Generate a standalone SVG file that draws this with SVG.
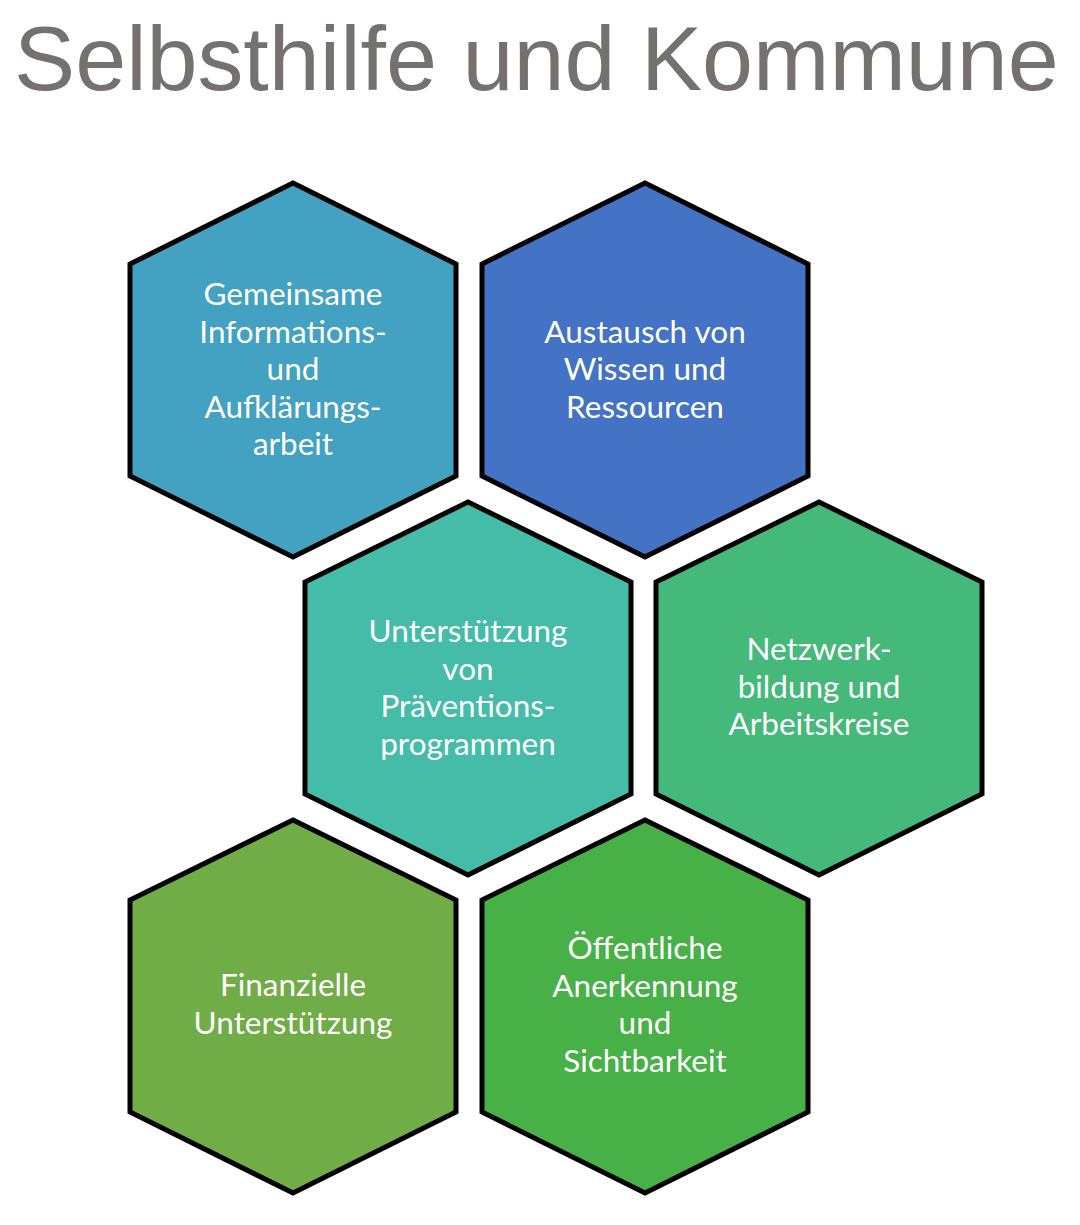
<svg xmlns="http://www.w3.org/2000/svg" width="1080" height="1225" viewBox="0 0 1080 1225">
<style>
.hex{stroke:#000;stroke-width:5;stroke-linejoin:miter}
.lbl{font-family:Lato,"Open Sans",sans-serif;font-size:31.5px;fill:#fff;text-anchor:middle}
.title{font-family:"Liberation Sans",Arial,sans-serif;font-size:91.7px;fill:#767171}
</style>
<rect width="1080" height="1225" fill="#fff"/>
<text class="title" x="14" y="90">Selbsthilfe und Kommune</text>
<g id="connectors"></g>
<g id="hex1">
<polygon class="hex" fill="#43A1C2" points="293,183 456,264 456,476 293,557 130,476 130,264"/>
<text class="lbl" x="293"><tspan x="293" y="305">Gemeinsame</tspan><tspan x="293" y="342.5">Informations-</tspan><tspan x="293" y="380">und</tspan><tspan x="293" y="417.5">Aufklärungs-</tspan><tspan x="293" y="455">arbeit</tspan></text>
</g>
<g id="hex2">
<polygon class="hex" fill="#4472C4" points="645,183 808,264 808,476 645,557 482,476 482,264"/>
<text class="lbl"><tspan x="645" y="342.5">Austausch von</tspan><tspan x="645" y="380">Wissen und</tspan><tspan x="645" y="417.5">Ressourcen</tspan></text>
</g>
<g id="hex3">
<polygon class="hex" fill="#44BCA8" points="468,502 631,582 631,794 468,875 305,794 305,582"/>
<text class="lbl"><tspan x="468" y="642">Unterstützung</tspan><tspan x="468" y="679.5">von</tspan><tspan x="468" y="717">Präventions-</tspan><tspan x="468" y="754.5">programmen</tspan></text>
</g>
<g id="hex4">
<polygon class="hex" fill="#45B979" points="819,502 982,582 982,794 819,875 656,794 656,582"/>
<text class="lbl"><tspan x="819" y="660">Netzwerk-</tspan><tspan x="819" y="697.5">bildung und</tspan><tspan x="819" y="735">Arbeitskreise</tspan></text>
</g>
<g id="hex5">
<polygon class="hex" fill="#70AD47" points="293,820 456,900 456,1112 293,1193 130,1112 130,900"/>
<text class="lbl"><tspan x="293" y="996">Finanzielle</tspan><tspan x="293" y="1033.5">Unterstützung</tspan></text>
</g>
<g id="hex6">
<polygon class="hex" fill="#47B148" points="645,820 808,900 808,1112 645,1193 482,1112 482,900"/>
<text class="lbl"><tspan x="645" y="959">Öffentliche</tspan><tspan x="645" y="996.5">Anerkennung</tspan><tspan x="645" y="1034">und</tspan><tspan x="645" y="1071.5">Sichtbarkeit</tspan></text>
</g>
</svg>
